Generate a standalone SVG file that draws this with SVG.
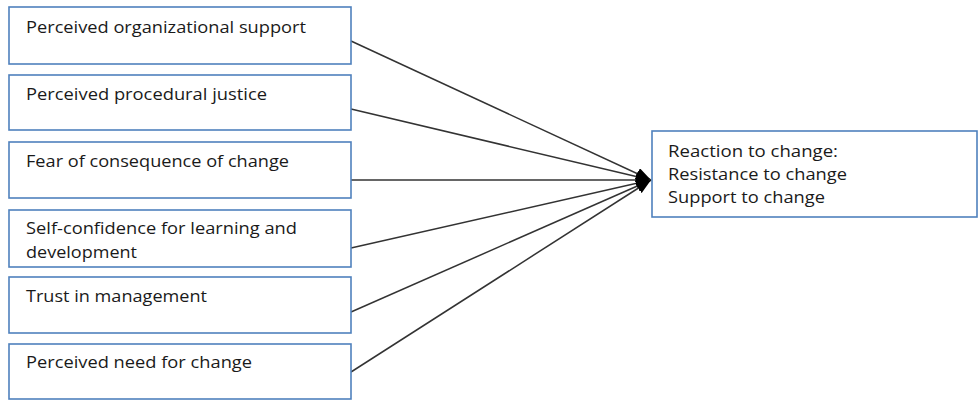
<svg xmlns="http://www.w3.org/2000/svg" width="979" height="402" viewBox="0 0 979 402">
<defs>
<style>
.box{fill:#fff;stroke:#4f81bd;stroke-width:1.6}
.t{font-family:"Open Sans","Liberation Sans",sans-serif;font-size:15.5px;fill:#1a1a1a}
.c{stroke:#333;stroke-width:1.5;fill:none;marker-end:url(#ah)}
</style>
<marker id="ah" viewBox="0 0 10 8" refX="10" refY="4" markerWidth="10" markerHeight="8" markerUnits="strokeWidth" orient="auto">
<path d="M0,0 L10,4 L0,8 z" fill="#000"/>
</marker>
</defs>
<rect width="979" height="402" fill="#fff"/>
<g id="connectors">
<line class="c" x1="351" y1="41" x2="651" y2="180"/>
<line class="c" x1="351" y1="109" x2="651" y2="180"/>
<line class="c" x1="351" y1="180" x2="651" y2="180"/>
<line class="c" x1="351" y1="248" x2="651" y2="180"/>
<line class="c" x1="351" y1="312" x2="651" y2="180"/>
<line class="c" x1="351" y1="372" x2="651" y2="180"/>
</g>
<g id="n1"><rect class="box" x="9" y="7" width="342" height="57"/><text class="t" x="26" y="33" textLength="280" lengthAdjust="spacingAndGlyphs">Perceived organizational support</text></g>
<g id="n2"><rect class="box" x="9" y="75" width="342" height="55"/><text class="t" x="26" y="100" textLength="241" lengthAdjust="spacingAndGlyphs">Perceived procedural justice</text></g>
<g id="n3"><rect class="box" x="9" y="142" width="342" height="56"/><text class="t" x="26" y="167" textLength="263" lengthAdjust="spacingAndGlyphs">Fear of consequence of change</text></g>
<g id="n4"><rect class="box" x="9" y="210" width="342" height="57"/><text class="t" x="26" y="234" textLength="271" lengthAdjust="spacingAndGlyphs">Self-confidence for learning and</text><text class="t" x="26" y="258" textLength="111" lengthAdjust="spacingAndGlyphs">development</text></g>
<g id="n5"><rect class="box" x="9" y="277" width="342" height="56"/><text class="t" x="26" y="302" textLength="181" lengthAdjust="spacingAndGlyphs">Trust in management</text></g>
<g id="n6"><rect class="box" x="9" y="344" width="342" height="55"/><text class="t" x="26" y="368" textLength="226" lengthAdjust="spacingAndGlyphs">Perceived need for change</text></g>
<g id="n7"><rect class="box" x="652" y="131" width="325" height="86"/>
<text class="t" x="668" y="157" textLength="170" lengthAdjust="spacingAndGlyphs">Reaction to change:</text>
<text class="t" x="668" y="180" textLength="179" lengthAdjust="spacingAndGlyphs">Resistance to change</text>
<text class="t" x="668" y="203" textLength="157" lengthAdjust="spacingAndGlyphs">Support to change</text></g>
</svg>
